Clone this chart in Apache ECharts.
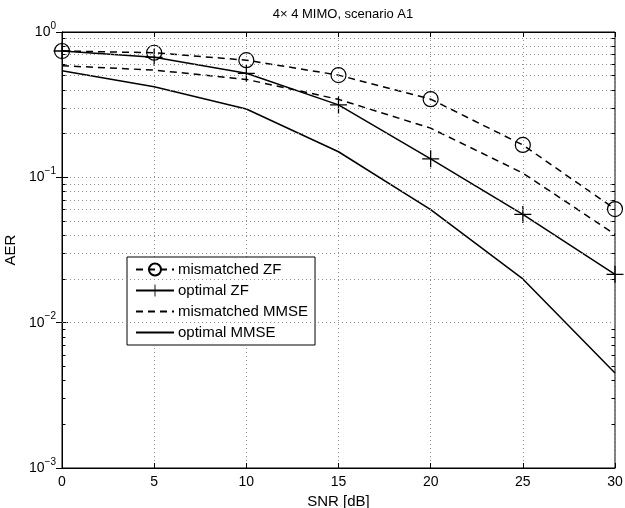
<!DOCTYPE html>
<html>
<head>
<meta charset="utf-8">
<script src="https://cdn.jsdelivr.net/npm/echarts@6/dist/echarts.min.js"></script>
<style>
html,body{margin:0;padding:0;background:#fff;}
#chart{width:625px;height:508px;}
</style>
</head>
<body>
<div id="chart"></div>
<script>
// ---- data ----
var snr = [0, 5, 10, 15, 20, 25, 30];
var mismatchedZF   = [0.74, 0.72, 0.64, 0.505, 0.345, 0.167, 0.0605];
var optimalZF      = [0.74, 0.67, 0.52, 0.315, 0.134, 0.0556, 0.0215];
var mismatchedMMSE = [0.586, 0.547, 0.472, 0.344, 0.218, 0.107, 0.0405];
var optimalMMSE    = [0.542, 0.42, 0.295, 0.150, 0.060, 0.0200, 0.0045];
var seriesNames = ['mismatched ZF', 'optimal ZF', 'mismatched MMSE', 'optimal MMSE'];
var xTicks = [0, 5, 10, 15, 20, 25, 30];
var decades = [0.001, 0.01, 0.1];
var minorMult = [2, 3, 4, 5, 6, 7, 8, 9];

function pairs(ys) { return snr.map(function (x, i) { return [x, ys[i]]; }); }

var minorVals = [];
decades.forEach(function (d) { minorMult.forEach(function (m) { minorVals.push(+(d * m).toPrecision(3)); }); });

var FONT = 'Liberation Sans, Arial, Helvetica, sans-serif';
var plusPath = 'path://M-0.075,-1H0.075V-0.075H1V0.075H0.075V1H-0.075V0.075H-1V-0.075H-0.075Z';
var gridDot = { color: '#8f8f8f', type: [1, 3], width: 1 };

var minorGridData = minorVals.map(function (v) { return { yAxis: v }; });
var minorTickData = [];
minorVals.forEach(function (v) {
  minorTickData.push([{ coord: [0, v] }, { coord: [0.19, v] }]);
  minorTickData.push([{ coord: [29.81, v] }, { coord: [30, v] }]);
});

var chart = echarts.init(document.getElementById('chart'), null, { renderer: 'canvas' });
chart.setOption({
  animation: false,
  backgroundColor: '#fff',
  textStyle: { fontFamily: FONT },
  title: {
    text: '4\u00d7 4 MIMO, scenario A1',
    left: 338, top: 3, textAlign: 'center',
    textStyle: { fontFamily: FONT, fontSize: 13, fontWeight: 'normal', color: '#000' }
  },
  grid: { left: 62, top: 32, width: 553, height: 436, outerBoundsMode: 'none', containLabel: false,
          show: true, borderColor: '#000', borderWidth: 1 },
  legend: {
    orient: 'vertical', left: 127, top: 257,
    data: [
      { name: seriesNames[0] },
      { name: seriesNames[1] },
      { name: seriesNames[2], itemStyle: { opacity: 0 } },
      { name: seriesNames[3], itemStyle: { opacity: 0 } }
    ],
    backgroundColor: '#fff', borderColor: '#000', borderWidth: 1,
    padding: [5, 7, 5, 8], itemGap: 6, itemWidth: 38, itemHeight: 15,
    textStyle: { fontFamily: FONT, fontSize: 15, color: '#000', padding: [0, 0, 0, -1] },
    selectedMode: false
  },
  xAxis: [{
    type: 'value', min: 0, max: 30, interval: 5,
    name: 'SNR [dB]', nameLocation: 'middle', nameGap: 17,
    nameTextStyle: { fontFamily: FONT, fontSize: 15, color: '#000' },
    axisLine: { lineStyle: { color: '#000', width: 1 } },
    axisTick: { inside: true, length: 5, lineStyle: { color: '#000' } },
    axisLabel: { fontFamily: FONT, fontSize: 14, color: '#000', margin: 7 },
    splitLine: { show: true, lineStyle: gridDot }
  }, {
    type: 'value', min: 0, max: 30, interval: 5, position: 'top',
    axisLine: { lineStyle: { color: '#000' } },
    axisTick: { inside: true, length: 5, lineStyle: { color: '#000' } },
    axisLabel: { show: false }, splitLine: { show: false }
  }],
  yAxis: [{
    type: 'log', logBase: 10, min: 0.001, max: 1,
    name: 'AER', nameLocation: 'middle', nameGap: 32,
    nameTextStyle: { fontFamily: FONT, fontSize: 15, color: '#000' },
    axisLine: { show: true, lineStyle: { color: '#000', width: 1 } },
    axisTick: { show: true, inside: true, length: 6, lineStyle: { color: '#000' } },
    axisLabel: {
      margin: 6,
      formatter: function (v) {
        var e = Math.round(Math.log10(v));
        return '{b|10}{s|' + (e === 0 ? '0' : '\u2212' + (-e)) + '}';
      },
      rich: {
        b: { fontFamily: FONT, fontSize: 14, color: '#000' },
        s: { fontFamily: FONT, fontSize: 10, color: '#000', padding: [0, 0, 12, 0] }
      }
    },
    splitLine: { show: true, lineStyle: gridDot }
  }, {
    type: 'log', logBase: 10, min: 0.001, max: 1, position: 'right',
    axisLine: { show: true, lineStyle: { color: '#000' } },
    axisTick: { show: true, inside: true, length: 6, lineStyle: { color: '#000' } },
    axisLabel: { show: false }, splitLine: { show: false }
  }],
  series: [
    {
      type: 'line', data: [], silent: true, z: 1,
      markLine: {
        silent: true, symbol: 'none', animation: false,
        label: { show: false },
        lineStyle: gridDot,
        emphasis: { disabled: true },
        data: minorGridData
      }
    },
    {
      type: 'line', data: [], silent: true, z: 1,
      markLine: {
        silent: true, symbol: 'none', animation: false,
        label: { show: false },
        lineStyle: { color: '#000', type: 'solid', width: 1 },
        emphasis: { disabled: true },
        data: minorTickData
      }
    },
    {
      name: seriesNames[0], type: 'line', data: pairs(mismatchedZF), z: 3,
      symbol: 'circle', symbolSize: 15, showAllSymbol: true,
      lineStyle: { color: '#000', width: 1.5, type: [7, 5] },
      itemStyle: { color: 'rgba(0,0,0,0)', borderColor: '#000', borderWidth: 1.2 }
    },
    {
      name: seriesNames[1], type: 'line', data: pairs(optimalZF), z: 3,
      symbol: plusPath, symbolSize: 17, showAllSymbol: true,
      lineStyle: { color: '#000', width: 1.5, type: 'solid' },
      itemStyle: { color: '#000', borderWidth: 0 }
    },
    {
      name: seriesNames[2], type: 'line', data: pairs(mismatchedMMSE), z: 3,
      symbol: 'none',
      lineStyle: { color: '#000', width: 1.5, type: [7, 5] },
      itemStyle: { color: '#000' }
    },
    {
      name: seriesNames[3], type: 'line', data: pairs(optimalMMSE), z: 3,
      symbol: 'none',
      lineStyle: { color: '#000', width: 1.5, type: 'solid' },
      itemStyle: { color: '#000' }
    }
  ]
});
</script>
</body>
</html>
